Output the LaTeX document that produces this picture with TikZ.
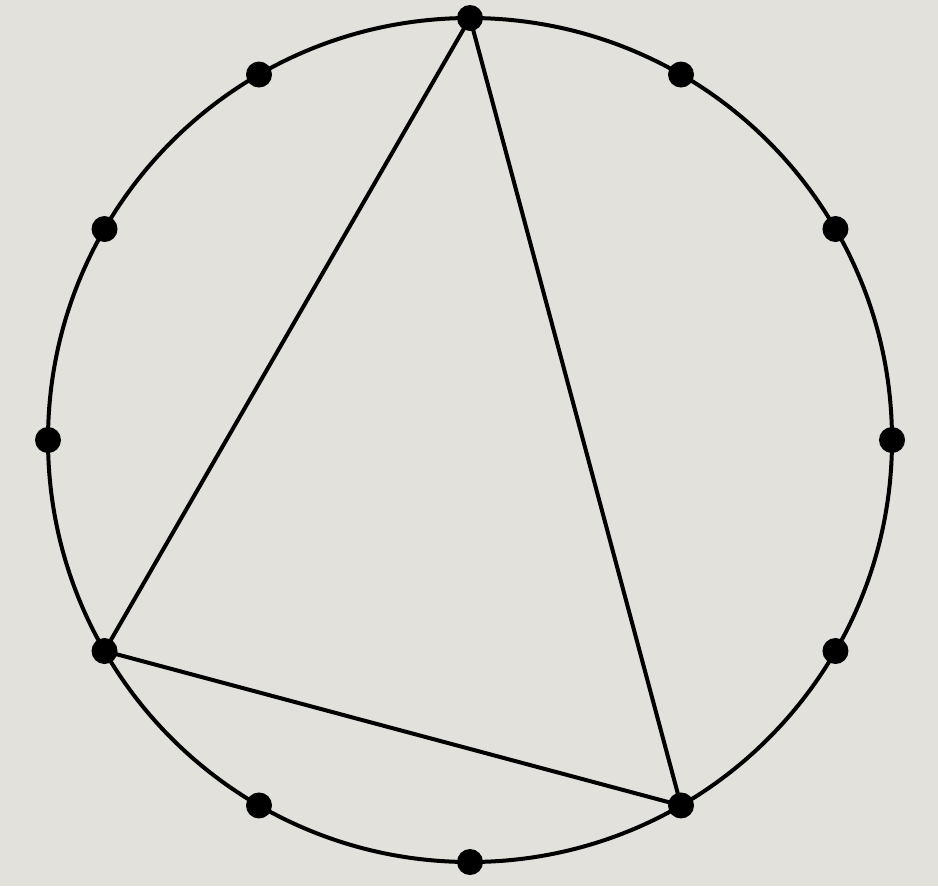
\documentclass[tikz,border=0pt]{standalone}
\usepackage{tikz}
\definecolor{bg}{HTML}{E2E1DB}
\tikzset{
  ring/.style={line width=3pt, draw=black},
  chord/.style={line width=3pt, draw=black, line join=round},
  dot/.style={circle, fill=black, inner sep=0pt, minimum size=19.5pt}
}
\begin{document}
\begin{tikzpicture}[x=0.75pt, y=-0.75pt]
  \fill[bg] (0,0) rectangle (938,886);
  \useasboundingbox (0,0) rectangle (938,886);
  \coordinate (c) at (470,440);
  \draw[ring] (c) circle[radius=316.5pt];
  \foreach \i in {0,...,11} {
    \coordinate (q\i) at ({470+422*cos(30*\i)},{440-422*sin(30*\i)});
  }
  \draw[chord] (q3) -- (q7) -- (q10) -- cycle;
  \foreach \i in {0,...,11} {
    \node[dot] (p\i) at (q\i) {};
  }
\end{tikzpicture}
\end{document}
